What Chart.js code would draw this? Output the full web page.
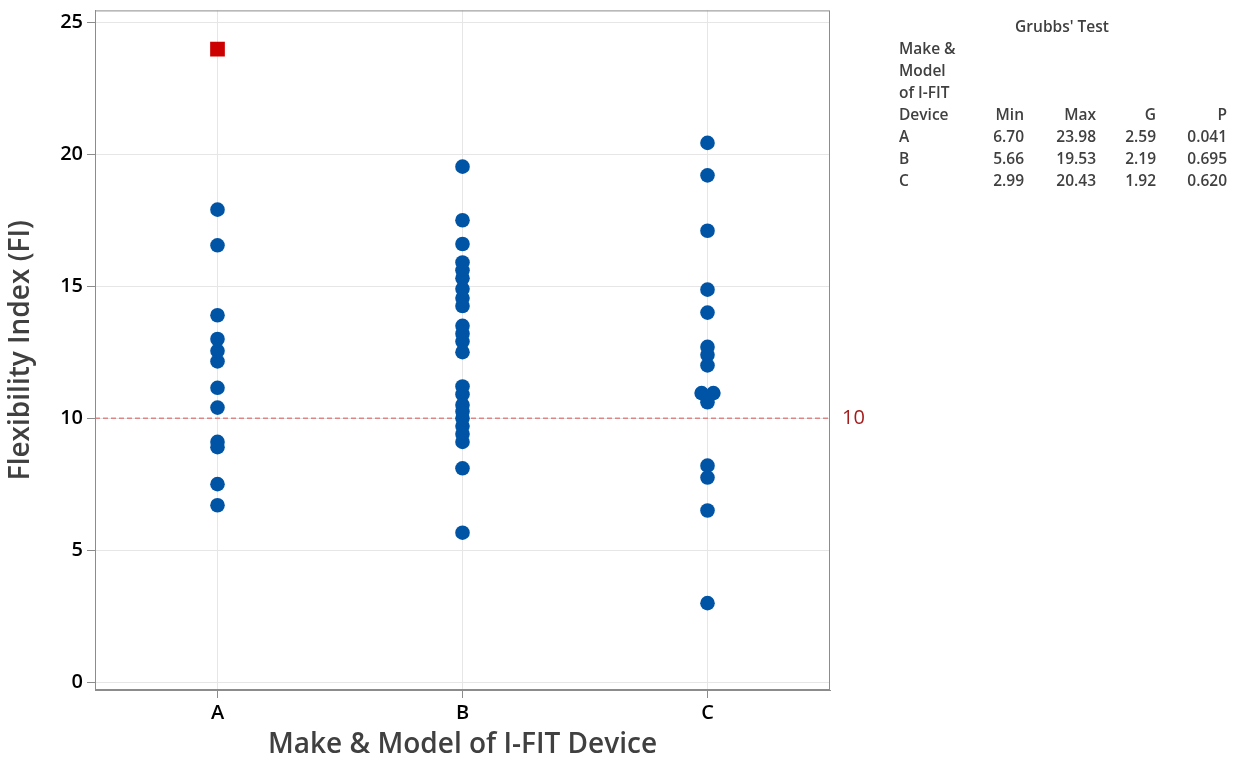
<!DOCTYPE html>
<html>
<head>
<meta charset="utf-8">
<script src="https://cdn.jsdelivr.net/npm/chart.js@4.4.0/dist/chart.umd.min.js"></script>
<style>
  html, body { margin: 0; padding: 0; background: #fff; }
  #wrap { width: 1233px; height: 766px; position: relative; }
</style>
</head>
<body>
<div id="wrap"><canvas id="myChart" width="1233" height="766"></canvas></div>
<script>
// categories and values
var categories = ['A', 'B', 'C'];
var aValues = [17.9, 16.55, 13.9, 13.0, 12.55, 12.15, 11.15, 10.4, 9.1, 8.9, 7.5, 6.7];
var aOutlier = [23.98];
var bValues = [19.53, 17.5, 16.6, 15.9, 15.6, 15.3, 14.9, 14.55, 14.25, 13.5, 13.2, 12.9, 12.5,
               11.2, 10.9, 10.5, 10.25, 10.0, 9.7, 9.4, 9.1, 8.1, 5.66];
var cValues = [20.43, 19.2, 17.1, 14.87, 14.0, 12.7, 12.4, 12.0, 10.95, 10.95, 10.6, 8.2, 7.75, 6.5, 2.99];
// small sideways jitter Minitab gives to tied points in C
var cJitter = [0, 0, 0, 0, 0, 0, 0, 0, -0.024, 0.024, 0, 0, 0, 0, 0];
var refValue = 10;
var yTicks = [0, 5, 10, 15, 20, 25];

// Grubbs' test table
var grubbsHead = ['Min', 'Max', 'G', 'P'];
var grubbsRows = ['A', 'B', 'C'];
var grubbsMin = ['6.70', '5.66', '2.99'];
var grubbsMax = ['23.98', '19.53', '20.43'];
var grubbsG = ['2.59', '2.19', '1.92'];
var grubbsP = ['0.041', '0.695', '0.620'];

var FONT = "'Open Sans', 'Noto Sans', sans-serif";
var BLUE = '#0054a6';

function points(idx, vals, jit) {
  var out = [];
  for (var i = 0; i < vals.length; i++) {
    out.push({ x: idx + (jit ? jit[i] : 0), y: vals[i] });
  }
  return out;
}

var frameAndRef = {
  id: 'frameAndRef',
  beforeDatasetsDraw: function(chart) {
    var ctx = chart.ctx;
    var a = chart.chartArea;
    var yv = chart.scales.y.getPixelForValue(refValue);
    ctx.save();
    ctx.strokeStyle = '#d9534f';
    ctx.lineWidth = 1;
    ctx.setLineDash([5, 3]);
    ctx.beginPath();
    ctx.moveTo(a.left, yv);
    ctx.lineTo(a.right, yv);
    ctx.stroke();
    ctx.restore();
  },
  afterDraw: function(chart) {
    var ctx = chart.ctx;
    var a = chart.chartArea;
    var yv = chart.scales.y.getPixelForValue(refValue);
    ctx.save();
    ctx.strokeStyle = '#8c8c8c';
    ctx.lineWidth = 1;
    ctx.strokeRect(a.left + 0.5, a.top + 0.5, a.right - a.left - 1, a.bottom - a.top - 1);

    ctx.fillStyle = '#a51c1c';
    ctx.font = '500 20px ' + FONT;
    ctx.textAlign = 'left';
    ctx.textBaseline = 'middle';
    ctx.fillText(String(refValue), a.right + 12, yv);

    // Grubbs table
    ctx.fillStyle = '#404040';
    ctx.font = '600 15.5px ' + FONT;
    ctx.textAlign = 'center';
    ctx.fillText("Grubbs' Test", 1062, 28);
    ctx.textAlign = 'left';
    var lh = 22;
    var y0 = 50;
    var label = ['Make &', 'Model', 'of I-FIT', 'Device'];
    for (var i = 0; i < label.length; i++) ctx.fillText(label[i], 899, y0 + i * lh);
    var colX = [1024, 1096, 1156, 1227];
    var cols = [grubbsMin, grubbsMax, grubbsG, grubbsP];
    ctx.textAlign = 'right';
    for (var c = 0; c < 4; c++) ctx.fillText(grubbsHead[c], colX[c], y0 + 3 * lh);
    for (var r = 0; r < grubbsRows.length; r++) {
      var yy = y0 + (4 + r) * lh;
      ctx.textAlign = 'left';
      ctx.fillText(grubbsRows[r], 899, yy);
      ctx.textAlign = 'right';
      for (var c2 = 0; c2 < 4; c2++) ctx.fillText(cols[c2][r], colX[c2], yy);
    }
    ctx.restore();
  }
};

var ctx = document.getElementById('myChart').getContext('2d');
var myChart = new Chart(ctx, {
  type: 'scatter',
  data: {
    datasets: [
      { label: 'A', data: points(0, aValues), backgroundColor: BLUE, borderColor: BLUE, pointRadius: 7.3, borderWidth: 0 },
      { label: 'B', data: points(1, bValues), backgroundColor: BLUE, borderColor: BLUE, pointRadius: 7.3, borderWidth: 0 },
      { label: 'C', data: points(2, cValues, cJitter), backgroundColor: BLUE, borderColor: BLUE, pointRadius: 7.3, borderWidth: 0 },
      { label: 'Outlier', data: points(0, aOutlier), backgroundColor: '#cc0000', borderColor: '#cc0000', pointStyle: 'rect', pointRadius: 10.4, borderWidth: 0 }
    ]
  },
  options: {
    responsive: false,
    animation: false,
    layout: { padding: { left: 0, right: 403, top: 8, bottom: 0 } },
    plugins: { legend: { display: false }, tooltip: { enabled: false } },
    scales: {
      x: {
        type: 'linear',
        min: -0.5,
        max: 2.5,
        afterBuildTicks: function(s) { s.ticks = categories.map(function(c, i) { return { value: i }; }); },
        afterFit: function(s) { s.height = 76; s.paddingLeft = 0; s.paddingRight = 0; },
        ticks: {
          callback: function(v) { return categories[v]; },
          color: '#000',
          font: { family: FONT, size: 20, weight: '600' },
          padding: 3,
          maxRotation: 0
        },
        grid: { color: '#e6e6e6', tickColor: '#8c8c8c', tickLength: 8, drawTicks: true },
        border: { color: '#8c8c8c' },
        title: { display: true, text: 'Make & Model of I-FIT Device', color: '#404040', font: { family: FONT, size: 28, weight: '600' }, padding: { top: 0 } }
      },
      y: {
        min: -0.3,
        max: 25.45,
        afterBuildTicks: function(s) { s.ticks = yTicks.map(function(v) { return { value: v }; }); },
        afterFit: function(s) { s.width = 95; s.paddingTop = 0; s.paddingBottom = 0; },
        ticks: { color: '#000', font: { family: FONT, size: 20, weight: '600' }, padding: 4 },
        grid: { color: '#e6e6e6', tickColor: '#8c8c8c', tickLength: 8 },
        border: { color: '#8c8c8c' },
        title: { display: true, text: 'Flexibility Index (FI)', color: '#404040', font: { family: FONT, size: 28, weight: '600' }, padding: { bottom: 0 } }
      }
    }
  },
  plugins: [frameAndRef]
});
</script>
</body>
</html>
